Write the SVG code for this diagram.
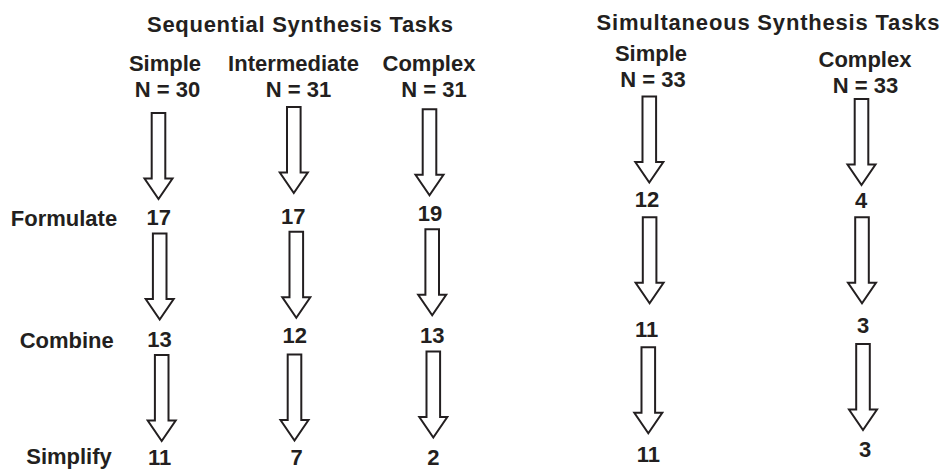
<svg xmlns="http://www.w3.org/2000/svg" width="943" height="470" viewBox="0 0 943 470">
<style>
text{font-family:"Liberation Sans",Arial,Helvetica,sans-serif;font-weight:bold;font-size:22px;fill:#231f20;text-anchor:middle}
.arr{fill:#fff;stroke:#231f20;stroke-width:2;stroke-linejoin:miter}
</style>
<defs>
<path id="arrow" class="arr" d="M-6.8,0 H6.8 V65.5 H14 L0,86 L-14,65.5 H-6.8 Z"/>
</defs>
<rect width="943" height="470" fill="#fff"/>
<g id="titles">
<g id="title-seq"><text x="300" y="32" textLength="306" lengthAdjust="spacing">Sequential Synthesis Tasks</text></g>
<g id="title-sim"><text x="768" y="30" textLength="343" lengthAdjust="spacing">Simultaneous Synthesis Tasks</text></g>
</g>
<g id="headers">
<g id="h-seq-simple"><text x="165" y="71">Simple</text><text x="167.5" y="96.5">N = 30</text></g>
<g id="h-seq-inter"><text x="293.5" y="71">Intermediate</text><text x="298.5" y="97">N = 31</text></g>
<g id="h-seq-complex"><text x="429" y="71">Complex</text><text x="434" y="97">N = 31</text></g>
<g id="h-sim-simple"><text x="651" y="61">Simple</text><text x="653" y="87">N = 33</text></g>
<g id="h-sim-complex"><text x="865" y="67">Complex</text><text x="865.5" y="93.3">N = 33</text></g>
</g>
<g id="row-labels">
<g id="lbl-formulate"><text x="64" y="226">Formulate</text></g>
<g id="lbl-combine"><text x="66.7" y="348">Combine</text></g>
<g id="lbl-simplify"><text x="69" y="463.5">Simplify</text></g>
</g>
<g id="values">
<g id="v-seq-simple-1"><text x="158.7" y="225">17</text></g>
<g id="v-seq-inter-1"><text x="293.3" y="224">17</text></g>
<g id="v-seq-complex-1"><text x="430" y="221">19</text></g>
<g id="v-seq-simple-2"><text x="159.5" y="346.7">13</text></g>
<g id="v-seq-inter-2"><text x="294.7" y="343.3">12</text></g>
<g id="v-seq-complex-2"><text x="432.3" y="342.7">13</text></g>
<g id="v-seq-simple-3"><text x="159.7" y="465">11</text></g>
<g id="v-seq-inter-3"><text x="296.7" y="465">7</text></g>
<g id="v-seq-complex-3"><text x="433.3" y="465">2</text></g>
<g id="v-sim-simple-1"><text x="647" y="207.3">12</text></g>
<g id="v-sim-complex-1"><text x="861" y="208.3">4</text></g>
<g id="v-sim-simple-2"><text x="646.7" y="336.5">11</text></g>
<g id="v-sim-complex-2"><text x="863" y="333.3">3</text></g>
<g id="v-sim-simple-3"><text x="648.3" y="461.7">11</text></g>
<g id="v-sim-complex-3"><text x="865" y="456.7">3</text></g>
</g>
<g id="connectors">
<use href="#arrow" x="158.5" y="113"/>
<use href="#arrow" x="293.8" y="107"/>
<use href="#arrow" x="429.5" y="109.3"/>
<use href="#arrow" x="159.7" y="233.5"/>
<use href="#arrow" x="296.3" y="231.7"/>
<use href="#arrow" x="432.2" y="229.3"/>
<use href="#arrow" x="161.7" y="355"/>
<use href="#arrow" x="294.5" y="354.5"/>
<use href="#arrow" x="433.3" y="351.5"/>
<use href="#arrow" x="649.3" y="96.5"/>
<use href="#arrow" x="861.5" y="99"/>
<use href="#arrow" x="649.6" y="217.3"/>
<use href="#arrow" x="862" y="217.3"/>
<use href="#arrow" x="648.3" y="347.3"/>
<use href="#arrow" x="863" y="344"/>
</g>
</svg>
